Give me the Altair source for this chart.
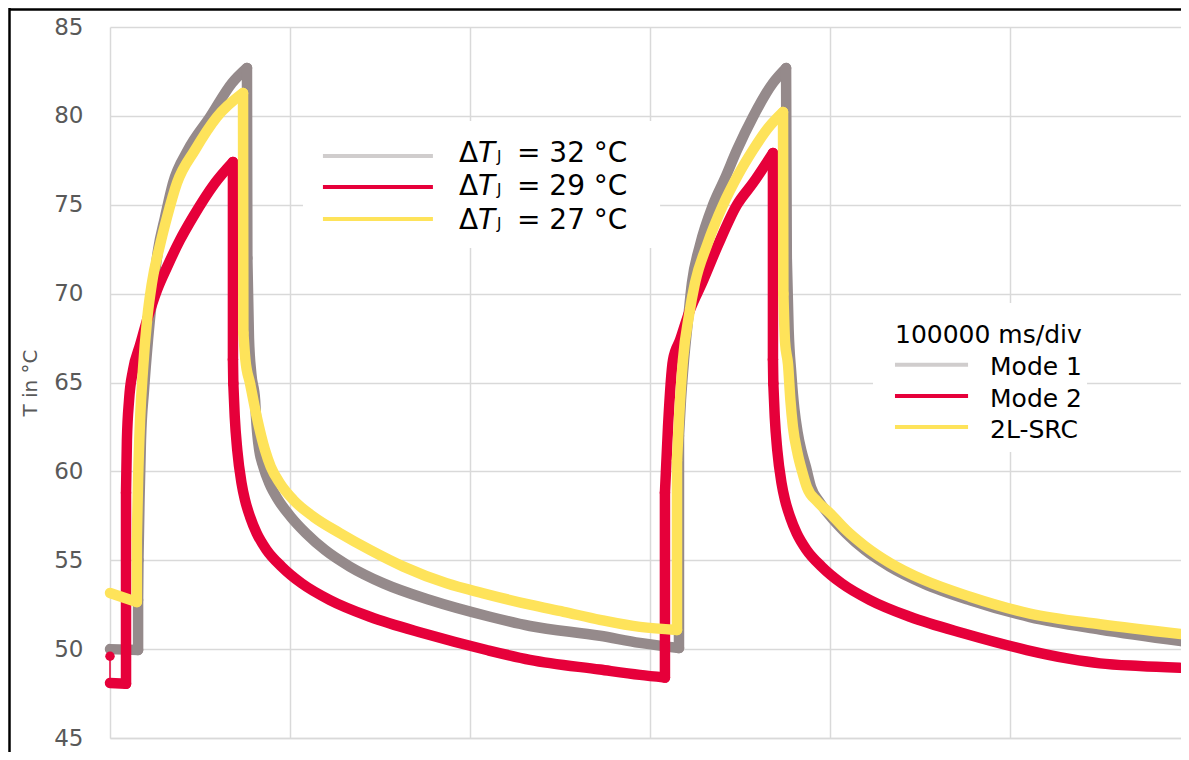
import altair as alt
import pandas as pd

# ---------------- data (time in s, 100 s = 100000 ms per division; temperature in °C)
mode1_t = [0, 15.6, 15.6, 15.8, 16.4, 17.2, 18.9, 21.1, 23.9, 26.7, 30.6, 35.0, 43.3, 55.6, 67.8, 76.1,
           76.3, 77.2, 78.5, 80.6, 81.1, 81.8, 82.9, 85.2, 88.5, 93.5, 100.4, 108.9, 119.4, 133.3,
           151.9, 177.8, 211.1, 233.3, 272.2, 294.4, 316.1,
           316.1, 317.2, 318.9, 321.1, 323.3, 327.8, 335.0, 341.7, 348.3, 357.2, 368.3, 375.6,
           376.0, 377.0, 378.5, 380.2, 382.0, 384.0, 386.5, 389.5, 394.0, 400.4, 408.9, 419.4,
           433.3, 451.9, 477.8, 511.1, 550.0, 595.0]
mode1_T = [50.0, 49.95, 52.76, 55.01, 58.39, 61.77, 64.58, 67.39, 70.2, 72.45, 74.31, 76.22, 78.08, 79.94, 81.85, 82.7,
           72.0, 67.5, 65.5, 64.02, 63.08, 62.14, 61.2, 60.26, 59.33, 58.39, 57.45, 56.52, 55.58, 54.64,
           53.7, 52.76, 51.82, 51.3, 50.75, 50.35, 50.06,
           62.0, 64.02, 66.27, 68.52, 70.6, 72.74, 74.99, 76.5, 78.08, 79.94, 81.85, 82.69,
           72.0, 68.0, 65.5, 63.5, 62.2, 61.2, 60.3, 59.1, 58.3, 57.45, 56.52, 55.58,
           54.64, 53.7, 52.75, 51.8, 51.1, 50.45]

mode2_t = [0, 8.9, 8.9, 9.4, 10.6, 12.8, 16.7, 21.1, 26.1, 31.7, 38.9, 46.1, 58.3, 68.3,
           68.3, 68.5, 69.3, 70.7, 73.1, 75.0, 77.8, 81.5, 87.0, 95.4, 106.5, 122.2, 144.4,
           174.1, 209.3, 233.3, 272.2, 294.4, 308.3,
           308.3, 310.0, 312.8, 316.7, 322.2, 328.9, 337.8, 348.3, 357.2, 368.3,
           368.3, 368.5, 369.3, 370.7, 373.1, 375.0, 377.8, 381.5, 387.0, 395.4, 406.5, 422.2,
           444.4, 474.1, 509.3, 533.3, 550.0, 572.0, 594.4]
mode2_T = [48.1, 48.05, 58.8, 61.77, 64.02, 65.7, 67.11, 68.68, 70.2, 71.5, 73.02, 74.31, 76.22, 77.41,
           66.3, 64.95, 63.08, 61.2, 59.33, 58.39, 57.45, 56.52, 55.58, 54.64, 53.7, 52.76, 51.82,
           50.89, 49.95, 49.4, 48.85, 48.55, 48.4,
           58.8, 62.5, 66.27, 67.39, 69.08, 70.6, 72.74, 74.99, 76.22, 77.91,
           66.3, 64.95, 63.08, 61.2, 59.33, 58.39, 57.45, 56.52, 55.58, 54.64, 53.7, 52.76,
           51.82, 50.89, 49.95, 49.45, 49.2, 49.05, 48.95]

src_t = [0, 14.9, 14.9, 15.6, 16.7, 18.3, 20.6, 23.3, 27.8, 31.7, 37.2, 47.2, 59.4, 73.9,
         74.1, 75.2, 77.8, 81.5, 86.1, 89.3, 94.4, 101.9, 113.0, 127.8, 144.4, 163.0, 187.0,
         207.4, 233.3, 252.0, 272.2, 294.4, 315.0,
         315.0, 316.1, 318.3, 321.7, 325.0, 331.7, 340.6, 348.9, 357.2, 365.6, 373.9,
         374.1, 375.0, 376.7, 378.0, 379.4, 382.0, 384.5, 387.2, 393.0, 400.4, 408.9, 419.4,
         433.3, 451.9, 477.8, 511.1, 550.0, 595.0]
src_T = [53.16, 52.65, 56.14, 59.51, 62.89, 65.7, 68.52, 70.6, 72.74, 74.31, 76.22, 78.08, 79.94, 81.29,
         67.8, 66.3, 64.95, 63.08, 61.2, 60.26, 59.33, 58.39, 57.45, 56.52, 55.58, 54.64, 53.7,
         53.14, 52.5, 52.1, 51.65, 51.25, 51.08,
         60.6, 62.89, 66.27, 68.8, 70.6, 72.74, 74.99, 76.67, 78.08, 79.32, 80.22,
         70.0, 67.3, 66.0, 64.0, 62.5, 61.0, 60.0, 59.1, 58.3, 57.6, 56.7, 55.8,
         54.85, 53.9, 52.95, 52.0, 51.4, 50.85]

# small red start marker (dot with thin stem)
marker_t = [0, 0]
marker_T = [49.6, 48.2]

series_names = ["Mode 1", "Mode 2", "2L-SRC"]
line_colors = ["#958a8b", "#e6003a", "#fee35a"]
legend_colors = ["#d0cdcd", "#e6003a", "#fee35a"]
delta_texts = ["= 32 °C", "= 29 °C", "= 27 °C"]
legend_title = "100000 ms/div"
y_ticks = [45, 50, 55, 60, 65, 70, 75, 80, 85]
x_grid = [0, 100, 200, 300, 400, 500]

FONT = "DejaVu Sans"


def split_runs(t, T):
    """Split a trace into smooth runs and near-vertical (sharp) links."""
    smooth_rows, sharp_rows = [], []
    seg, run = 0, [0]
    for k in range(len(t) - 1):
        if t[k + 1] - t[k] < 0.45:  # switching edge: keep straight
            if len(run) > 1:
                smooth_rows += [(t[j], T[j], seg, n) for n, j in enumerate(run)]
                seg += 1
            sharp_rows += [(t[k], T[k], seg, 0), (t[k + 1], T[k + 1], seg, 1)]
            seg += 1
            run = [k + 1]
        else:
            run.append(k + 1)
    if len(run) > 1:
        smooth_rows += [(t[j], T[j], seg, n) for n, j in enumerate(run)]
    cols = ["t", "T", "seg", "i"]
    return pd.DataFrame(smooth_rows, columns=cols), pd.DataFrame(sharp_rows, columns=cols)


xs = alt.Scale(domain=[0, 595], nice=False, zero=False)
ys = alt.Scale(domain=[45, 85], nice=False, zero=False)

x_axis = alt.Axis(values=x_grid, labels=False, ticks=False, title=None,
                  domain=True, domainColor="#d9d9d9", domainWidth=1.5,
                  grid=True, gridColor="#d9d9d9", gridWidth=1.5)
y_axis = alt.Axis(values=y_ticks, ticks=False, domain=False, grid=True,
                  gridColor="#d9d9d9", gridWidth=1.5,
                  labelFont=FONT, labelFontSize=23, labelColor="#595959", labelPadding=27,
                  title="T in °C", titleFont=FONT, titleFontSize=20, titleFontWeight="normal",
                  titleColor="#595959", titlePadding=13)


def X(field):
    return alt.X(field, scale=xs, axis=x_axis)


def Y(field):
    return alt.Y(field, scale=ys, axis=y_axis)


def series_layers(t, T, color):
    smooth, sharp = split_runs(t, T)
    style = dict(color=color, strokeWidth=10.5, strokeCap="round", strokeJoin="round")
    a = alt.Chart(smooth).mark_line(interpolate="monotone", **style).encode(
        x=X("t:Q"), y=Y("T:Q"), detail="seg:N", order="i:Q")
    b = alt.Chart(sharp).mark_line(**style).encode(
        x=X("t:Q"), y=Y("T:Q"), detail="seg:N", order="i:Q")
    return a + b


l1 = series_layers(mode1_t, mode1_T, line_colors[0])
l2 = series_layers(mode2_t, mode2_T, line_colors[1])
l3 = series_layers(src_t, src_T, line_colors[2])

mk = pd.DataFrame({"t": marker_t, "T": marker_T, "i": [0, 1]})
stem = alt.Chart(mk).mark_line(color=line_colors[1], strokeWidth=1.5).encode(
    x=X("t:Q"), y=Y("T:Q"), order="i:Q")
dot = alt.Chart(mk.iloc[[0]]).mark_point(filled=True, color=line_colors[1], size=90, opacity=1).encode(
    x=X("t:Q"), y=Y("T:Q"))

# ---------------- annotation boxes (white) and legends
boxes = pd.DataFrame({
    "x": [107.2, 423.9], "x2": [305.6, 542.8],
    "y": [79.71, 69.47], "y2": [72.57, 61.09],
})
box_layer = alt.Chart(boxes).mark_rect(fill="white").encode(
    x=X("x:Q"), x2="x2:Q", y=Y("y:Q"), y2="y2:Q")

leg1 = pd.DataFrame({
    "x": [118.3] * 3, "x2": [179.4] * 3,
    "y": [77.74, 76.0, 74.2], "c": legend_colors,
    "base": [77.42, 75.55, 73.62], "txt": delta_texts,
})
leg1_lines = alt.Chart(leg1).mark_rule(strokeWidth=4).encode(
    x=X("x:Q"), x2="x2:Q", y=Y("y:Q"), color=alt.Color("c:N", scale=None))


def txt_layer(df, xval, field, size, style="normal"):
    return alt.Chart(df).mark_text(
        align="left", baseline="alphabetic", font=FONT, fontSize=size,
        fontStyle=style, color="black"
    ).encode(
        x=X("xx:Q"), y=Y("base:Q"), text=f"{field}:N",
    ).transform_calculate(xx=str(xval))


leg1 = leg1.assign(delta="Δ", tee="T", jay="J")
leg1_txt = (txt_layer(leg1, 193.9, "delta", 28)
            + txt_layer(leg1, 204.4, "tee", 28, "italic")
            + txt_layer(leg1, 215.0, "jay", 15)
            + txt_layer(leg1, 226.1, "txt", 28))

leg2 = pd.DataFrame({
    "x": [436.1] * 3, "x2": [476.7] * 3,
    "y": [66.0, 64.24, 62.5], "c": legend_colors,
    "base": [65.42, 63.64, 61.86], "txt": series_names,
})
leg2_lines = alt.Chart(leg2).mark_rule(strokeWidth=4).encode(
    x=X("x:Q"), x2="x2:Q", y=Y("y:Q"), color=alt.Color("c:N", scale=None))
leg2_txt = txt_layer(leg2, 488.9, "txt", 25)
leg2_title = txt_layer(pd.DataFrame({"base": [67.24], "txt": [legend_title]}), 436.1, "txt", 25)

# ---------------- outer black frame (decorative, pixel positions)
frame_left = alt.Chart(pd.DataFrame({"a": [0]})).mark_rule(color="black", strokeWidth=2.5).encode(
    x=alt.value(-100.5), y=alt.value(-19), y2=alt.value(745))
frame_top = alt.Chart(pd.DataFrame({"a": [0]})).mark_rule(color="black", strokeWidth=2.5).encode(
    x=alt.value(-101), x2=alt.value(1071), y=alt.value(-17.5))

chart = alt.layer(
    l1, box_layer, l2, l3, stem, dot,
    leg1_lines, leg1_txt, leg2_lines, leg2_txt, leg2_title,
    frame_left, frame_top,
).properties(
    width=1071, height=711,
    autosize=alt.AutoSizeParams(type="none"),
    padding={"left": 102, "top": 19, "right": 0, "bottom": 14},
    background="white",
).configure_view(stroke=None)

chart.save("out.html", embed_options={"renderer": "svg", "actions": False})
